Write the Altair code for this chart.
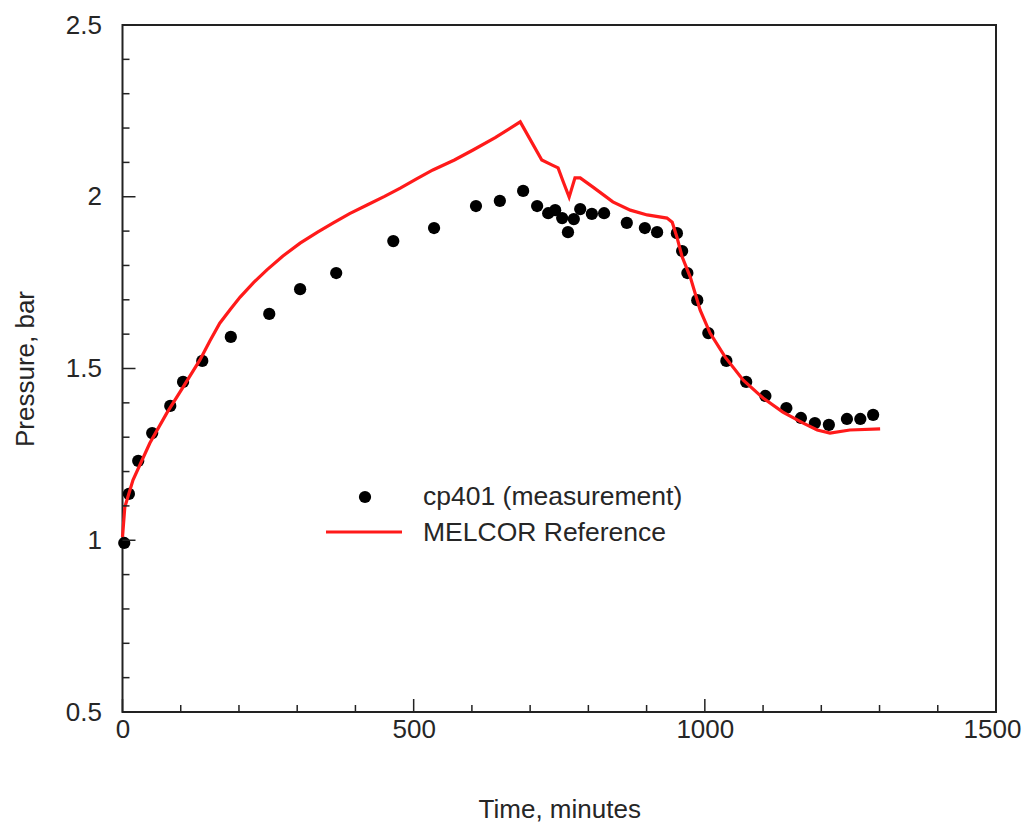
import altair as alt
import pandas as pd

# Measurement cp401
meas_t = [3, 11, 27, 51, 82, 104, 137, 186, 252, 305, 367, 465, 535, 607, 648, 688,
          712, 731, 743, 755, 765, 775, 786, 806, 827, 866, 897, 918, 952, 961, 970,
          987, 1006, 1037, 1071, 1104, 1140, 1165, 1189, 1213, 1244, 1267, 1289]
meas_p = [0.992, 1.135, 1.231, 1.312, 1.391, 1.461, 1.522, 1.592, 1.659, 1.731, 1.778,
          1.871, 1.909, 1.973, 1.988, 2.017, 1.973, 1.952, 1.961, 1.938, 1.897, 1.935,
          1.964, 1.950, 1.952, 1.924, 1.909, 1.897, 1.894, 1.842, 1.778, 1.699, 1.603,
          1.522, 1.461, 1.420, 1.385, 1.356, 1.341, 1.336, 1.353, 1.353, 1.365]

# MELCOR reference
ref_t = [0, 4, 18, 47, 76, 104, 133, 150, 167, 185, 202, 225, 248, 275, 305, 335, 362,
         390, 420, 450, 477, 505, 533, 570, 602, 640, 683,
         720, 738, 748, 757, 767, 777, 786, 808, 842, 872, 901, 935, 944, 952, 961, 975,
         992, 1009, 1035, 1066, 1100, 1134, 1169, 1193, 1215, 1249, 1301]
ref_p = [1.009, 1.097, 1.175, 1.283, 1.370, 1.446, 1.525, 1.580, 1.632, 1.672, 1.708,
         1.750, 1.787, 1.827, 1.865, 1.897, 1.924, 1.951, 1.976, 2.001, 2.025, 2.052,
         2.078, 2.107, 2.136, 2.172, 2.218, 2.107, 2.092, 2.084, 2.043, 1.999,
         2.055, 2.055, 2.028, 1.985, 1.961, 1.947, 1.938, 1.926, 1.883, 1.825, 1.766,
         1.670, 1.603, 1.533, 1.466, 1.414, 1.373, 1.341, 1.321, 1.312, 1.321, 1.324]

x_major = [0, 500, 1000, 1500]
x_minor = [100, 200, 300, 400, 600, 700, 800, 900, 1100, 1200, 1300, 1400]
y_major = [0.5, 1.0, 1.5, 2.0, 2.5]
y_minor = [0.6, 0.7, 0.8, 0.9, 1.1, 1.2, 1.3, 1.4, 1.6, 1.7, 1.8, 1.9, 2.1, 2.2, 2.3, 2.4]

legend_labels = ["cp401 (measurement)", "MELCOR Reference"]

W, H = 873.5, 687
FONT = "Liberation Sans"
TXT = "#262626"
RED = "#ff1a1a"

meas_df = pd.DataFrame({"t": meas_t, "p": meas_p})
ref_df = pd.DataFrame({"t": ref_t, "p": ref_p})

xs = alt.Scale(domain=[0, 1500], nice=False, zero=False)
ys = alt.Scale(domain=[0.5, 2.5], nice=False, zero=False)

x_axis = alt.Axis(values=x_major, format="d", ticks=False, domain=False, grid=False,
                  labelFlush=False, labelOverlap=False,
                  labelOffset={"condition": {"test": "datum.value == 1500", "value": -4}, "value": 0},
                  labelFont=FONT, labelFontSize=26, labelColor=TXT, labelPadding=4,
                  title="Time, minutes", titleFont=FONT, titleFontSize=26,
                  titleFontWeight="normal", titleColor=TXT, titleY=105,
                  titleBaseline="alphabetic")
y_axis = alt.Axis(values=y_major, format="~g", ticks=False, domain=False, grid=False,
                  labelFlush=False, labelOverlap=False,
                  labelFont=FONT, labelFontSize=26, labelColor=TXT, labelPadding=21,
                  title="Pressure, bar", titleFont=FONT, titleFontSize=26,
                  titleFontWeight="normal", titleColor=TXT, titleX=-97, titleY=H / 2,
                  titleBaseline="middle")


def X(f):
    return alt.X(f, scale=xs, axis=x_axis)


def Y(f):
    return alt.Y(f, scale=ys, axis=y_axis)


points = alt.Chart(meas_df).mark_circle(size=150, color="black", opacity=1).encode(
    x=X("t:Q"), y=Y("p:Q"))
line = alt.Chart(ref_df).mark_line(color=RED, strokeWidth=3.2).encode(
    x=X("t:Q"), y=Y("p:Q"))

tick_color = "#222"
xmaj = alt.Chart(pd.DataFrame({"t": x_major})).mark_rule(color=tick_color, strokeWidth=1.5).encode(
    x=X("t:Q"), y=alt.value(H), y2=alt.value(H - 13))
xmin = alt.Chart(pd.DataFrame({"t": x_minor})).mark_rule(color=tick_color, strokeWidth=1.5).encode(
    x=X("t:Q"), y=alt.value(H), y2=alt.value(H - 7))
ymaj = alt.Chart(pd.DataFrame({"p": y_major})).mark_rule(color=tick_color, strokeWidth=1.5).encode(
    y=Y("p:Q"), x=alt.value(0), x2=alt.value(13))
ymin = alt.Chart(pd.DataFrame({"p": y_minor})).mark_rule(color=tick_color, strokeWidth=1.5).encode(
    y=Y("p:Q"), x=alt.value(0), x2=alt.value(7))

# manual legend
leg_pt = alt.Chart(pd.DataFrame({"k": [0]})).mark_circle(size=150, color="black", opacity=1).encode(
    x=alt.value(242.5), y=alt.value(472))
leg_ln = alt.Chart(pd.DataFrame({"k": [0]})).mark_rule(color=RED, strokeWidth=3.2).encode(
    x=alt.value(203.5), x2=alt.value(279.5), y=alt.value(507))
leg_t1 = alt.Chart(pd.DataFrame({"label": [legend_labels[0]]})).mark_text(
    font=FONT, fontSize=26.5, color=TXT, align="left", baseline="middle").encode(
    x=alt.value(300.5), y=alt.value(472), text="label:N")
leg_t2 = alt.Chart(pd.DataFrame({"label": [legend_labels[1]]})).mark_text(
    font=FONT, fontSize=26.5, color=TXT, align="left", baseline="middle").encode(
    x=alt.value(300.5), y=alt.value(508), text="label:N")

chart = alt.layer(points, line, xmaj, xmin, ymaj, ymin, leg_pt, leg_ln, leg_t1, leg_t2).properties(
    width=W, height=H,
    autosize=alt.AutoSizeParams(type="none"),
    padding={"left": 114.5, "top": 17, "right": 26, "bottom": 110},
    background="white",
).configure_view(stroke="#222", strokeWidth=2)

chart.save("out.html", embed_options={"renderer": "svg", "actions": False})
